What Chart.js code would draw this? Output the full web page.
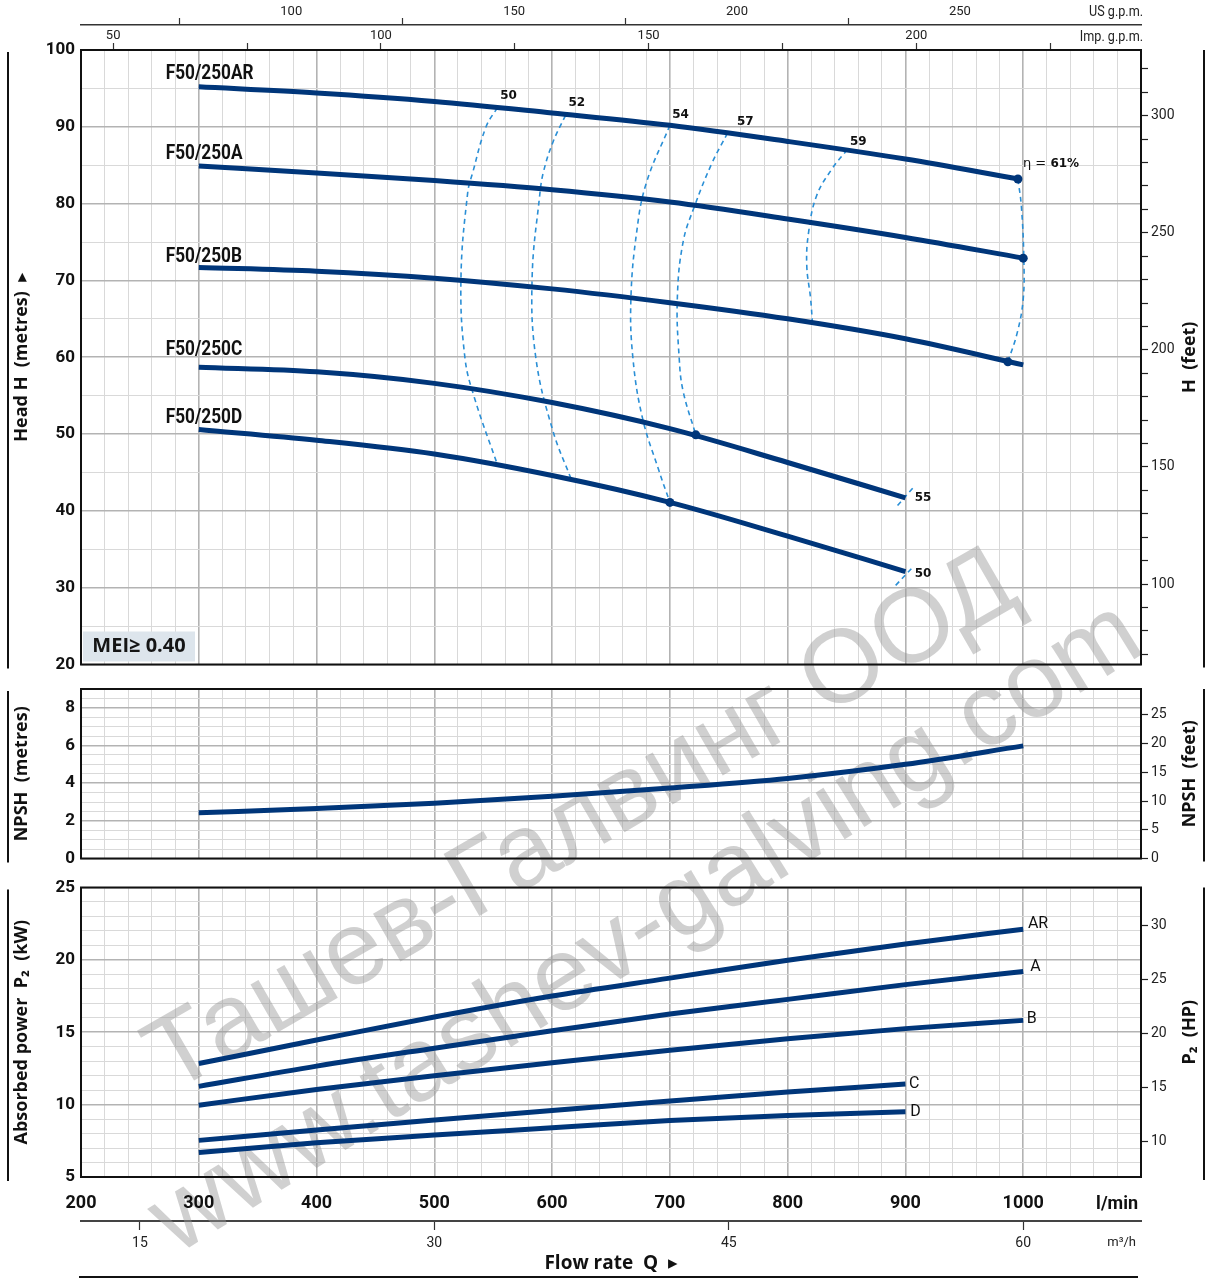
<!DOCTYPE html>
<html lang="en">
<head>
<meta charset="UTF-8">
<title>F50/250 performance curves</title>
<script src="https://cdn.jsdelivr.net/npm/chart.js"></script>
<style>
  html, body { margin: 0; padding: 0; background: #fff; }
  #page { position: relative; width: 1206px; height: 1279px; overflow: hidden; }
  .panel { position: absolute; left: 0; width: 1206px; }
</style>
</head>
<body>
<div id="page">
  <div class="panel" style="top:0;height:679px"><canvas id="headChart"></canvas></div>
  <div class="panel" style="top:679px;height:194px"><canvas id="npshChart"></canvas></div>
  <div class="panel" style="top:873px;height:406px"><canvas id="powerChart"></canvas></div>
</div>
<script>
// ---- values, flow Q in l/min ----
const qFull  = [300, 400, 500, 600, 700, 800, 900, 1000];
const qAR    = [300, 400, 500, 600, 700, 800, 900, 996];
const qShort = [300, 400, 500, 600, 700, 800, 900];

// head H (m)
const headAR = [95.2, 94.4, 93.3, 91.8, 90.2, 88.1, 85.8, 83.2];
const headA  = [84.9, 84.0, 83.0, 81.8, 80.2, 78.0, 75.6, 72.9];
const headB  = [71.7, 71.2, 70.3, 68.9, 67.1, 65.0, 62.4, 59.0];
const headC  = [58.7, 58.1, 56.6, 54.1, 50.7, 46.3, 41.7];
const headD  = [50.6, 49.2, 47.4, 44.6, 41.1, 36.7, 32.1];

// iso-efficiency lines [Q, H]
const eta50 = [[553.6, 92.5], [543.9, 90.0], [532.5, 84.0], [528.3, 81.4], [522.6, 70.2], [526, 59.9], [534.1, 54.7], [553.6, 46.0]];
const eta52 = [[611.4, 91.5], [600.7, 88.0], [592.6, 84.1], [589.4, 81.0], [583, 70.2], [586.2, 59.9], [600.7, 50.4], [616, 44.2]];
const eta54 = [[700, 90.2], [680, 82.7], [671.8, 76.3], [666.9, 67.6], [668.6, 59.9], [676.7, 52.1], [689.9, 45.6], [700, 41.1]];
const eta57 = [[749, 89.2], [735.8, 85.3], [721, 79.7], [711.2, 75.0], [706.3, 67.6], [707.9, 59.9], [711.2, 55.6], [722, 49.9]];
const eta59 = [[850.7, 87.05], [837.5, 84.5], [824.5, 81.0], [817.8, 76.3], [816.2, 72.0], [819.5, 67.6], [821, 64.5]];
const eta61 = [[995.5, 83.2], [998.4, 79.7], [1000.5, 72.9], [1000, 67.6], [995.1, 63.3], [987, 59.4]];
const eta55end = [[893.3, 40.7], [906.4, 43.0]];
const eta50end = [[891.7, 30.3], [905.8, 32.6]];

// best efficiency points
const bepQ = [995.5, 1000, 987, 722, 700];
const bepH = [83.2, 72.9, 59.4, 49.9, 41.1];

// NPSH (m)
const npsh = [2.43, 2.65, 2.94, 3.3, 3.74, 4.25, 5.0, 5.98];

// absorbed power P2 (kW)
const powerAR = [12.84, 14.46, 16.05, 17.5, 18.74, 19.98, 21.1, 22.12];
const powerA  = [11.26, 12.66, 13.9, 15.1, 16.26, 17.27, 18.29, 19.2];
const powerB  = [9.96, 11.05, 12.0, 12.9, 13.75, 14.55, 15.25, 15.82];
const powerC  = [7.53, 8.25, 8.93, 9.6, 10.25, 10.87, 11.42];
const powerD  = [6.69, 7.36, 7.9, 8.4, 8.9, 9.25, 9.5];

// tick labels
const flowLabels   = [200, 300, 400, 500, 600, 700, 800, 900, 1000];
const headLabels   = [20, 30, 40, 50, 60, 70, 80, 90, 100];
const feetTicks    = [70, 80, 90, 100, 110, 120, 130, 140, 150, 160, 170, 180, 190, 200, 210, 220, 230, 240, 250, 260, 270, 280, 290, 300, 310, 320];
const feetLabels   = [100, 150, 200, 250, 300];
const npshLabels   = [0, 2, 4, 6, 8];
const npshFtTicks  = [0, 5, 10, 15, 20, 25];
const powerLabels  = [5, 10, 15, 20, 25];
const hpTicks      = [10, 15, 20, 25, 30];
const usTicks      = [75, 100, 125, 150, 175, 200, 225, 250];
const usLabels     = [100, 150, 200, 250];
const impTicks     = [50, 75, 100, 125, 150, 175, 200, 225];
const impLabels    = [50, 100, 150, 200];
const m3hTicks     = [15, 30, 45, 60];

const L_PER_USG = 3.785, L_PER_IMPG = 4.546, M_PER_FT = 0.3048, KW_PER_HP = 0.7457;

const NAVY = '#00367a';
const DASH = '#2a8fd6';
const NARROW = "Roboto, 'DejaVu Sans Condensed', sans-serif";
const SANS = "'Open Sans', 'DejaVu Sans', sans-serif";

function seq(a, b, step) {
  const out = [];
  const n = Math.round((b - a) / step);
  for (let i = 0; i <= n; i++) out.push(+(a + i * step).toFixed(4));
  return out;
}
const pts = (xs, ys) => xs.map((x, i) => ({ x, y: ys[i] }));
const pairs = arr => arr.map(([x, y]) => ({ x, y }));
const setTicks = values => s => { s.ticks = values.map(v => ({ value: v })); };

function curve(xs, ys) {
  return { data: pts(xs, ys), borderColor: NAVY, borderWidth: 5, pointRadius: 0, cubicInterpolationMode: 'monotone', borderCapStyle: 'butt' };
}
function dashed(arr) {
  return { data: pairs(arr), borderColor: DASH, borderWidth: 1.6, borderDash: [5, 4], pointRadius: 0, tension: 0.4 };
}

function gridOpts(isMajor) {
  return {
    drawTicks: false,
    color: c => (c.tick && isMajor(c.tick.value)) ? '#b3b3b3' : '#d9d9d9',
    lineWidth: c => (c.tick && isMajor(c.tick.value)) ? 1.6 : 1
  };
}

function flowAxis(showLabels, height) {
  return {
    type: 'linear', position: 'bottom', weight: 0, min: 200, max: 1100,
    afterBuildTicks: setTicks(seq(200, 1100, 20)),
    grid: gridOpts(v => v % 100 === 0),
    border: { display: false },
    ticks: {
      display: showLabels, autoSkip: false, maxRotation: 0, padding: 16, z: 1, color: '#111',
      font: { family: NARROW, size: 18, weight: 'bold' },
      callback: v => flowLabels.includes(v) ? String(v) : ''
    },
    afterFit: s => { s.height = height; }
  };
}

function leftAxis(min, max, step, labels, major, title) {
  return {
    type: 'linear', position: 'left', min, max,
    afterBuildTicks: setTicks(seq(min, max, step)),
    grid: gridOpts(major),
    border: { display: false },
    ticks: {
      padding: 6, color: '#111', autoSkip: false, z: 1,
      font: c => ({ family: NARROW, weight: 'bold', size: (c.tick && labels.includes(c.tick.value)) ? 17 : 1, lineHeight: 1 }),
      callback: v => labels.includes(v) ? String(v) : ''
    },
    title: { display: true, text: title, color: '#111', font: { family: SANS, size: 18, weight: 'bold' }, padding: { top: 11, bottom: 0 } },
    afterFit: s => { s.width = 81; }
  };
}

function rightAxis(min, max, values, labels) {
  return {
    type: 'linear', position: 'right', min, max,
    afterBuildTicks: setTicks(values),
    grid: { drawOnChartArea: false, tickLength: 7, tickColor: '#222', tickWidth: 1.2 },
    border: { display: false },
    ticks: {
      padding: 3, color: '#222', autoSkip: false, z: 1,
      font: { family: NARROW, size: 14, lineHeight: 1 },
      callback: v => labels.includes(v) ? String(v) : ''
    },
    afterFit: s => { s.width = 65; }
  };
}

function topAxis(weight, per, values, labels, markLabelled, withBorder, pad) {
  return {
    type: 'linear', position: 'top', weight, min: 200 / per, max: 1100 / per,
    afterBuildTicks: setTicks(values),
    grid: {
      drawOnChartArea: false, tickLength: 7, tickWidth: 1.2,
      tickColor: c => (markLabelled || !(c.tick && labels.includes(c.tick.value))) ? '#333' : 'rgba(0,0,0,0)'
    },
    border: withBorder ? { display: true, color: '#333', width: 1.5 } : { display: false },
    ticks: {
      padding: pad, color: '#222', autoSkip: false, maxRotation: 0, z: 1,
      font: { family: NARROW, size: 13, lineHeight: 1 },
      callback: v => labels.includes(v) ? String(v) : ''
    },
    afterFit: s => { s.height = 25; }
  };
}

// background watermark, page coordinates
const watermark = [
  { text: 'Ташев-Галвинг ООД', x: 597, y: 848, angle: -30 },
  { text: 'www.tashev-galving.com', x: 662, y: 953, angle: -31.9 }
];

function txt(ctx, s, x, y, font, align, color, sx) {
  ctx.save();
  ctx.translate(x, y);
  if (sx) ctx.scale(sx, 1);
  ctx.font = font;
  ctx.textAlign = align || 'left';
  ctx.textBaseline = 'middle';
  ctx.fillStyle = color || '#111';
  ctx.fillText(s, 0, 0);
  ctx.restore();
}

const decor = {
  id: 'decor',
  beforeDatasetsDraw(chart, args, o) {
    const ctx = chart.ctx;
    ctx.save();
    ctx.fillStyle = 'rgba(150,150,150,0.45)';
    ctx.font = '104px "Liberation Sans", Arial, sans-serif';
    ctx.textAlign = 'center';
    ctx.textBaseline = 'alphabetic';
    watermark.forEach(w => {
      ctx.save();
      ctx.translate(w.x, w.y - o.top);
      ctx.rotate(w.angle * Math.PI / 180);
      ctx.fillText(w.text, 0, 0);
      ctx.restore();
    });
    ctx.restore();
  },
  afterDatasetsDraw(chart, args, o) {
    const { ctx, chartArea: a } = chart;
    ctx.save();
    ctx.strokeStyle = '#111';
    ctx.lineWidth = 2;
    ctx.strokeRect(a.left, a.top, a.right - a.left, a.bottom - a.top);
    ctx.beginPath();
    ctx.moveTo(8, a.top + 2); ctx.lineTo(8, a.bottom + 4);
    ctx.moveTo(1204, a.top); ctx.lineTo(1204, a.bottom + 3);
    ctx.stroke();
    ctx.translate(1190, (a.top + a.bottom) / 2);
    ctx.rotate(-Math.PI / 2);
    txt(ctx, o.rightTitle, 0, 0, 'bold 18px ' + SANS, 'center');
    ctx.restore();
  },
  afterDraw(chart, args, o) {
    if (o.extra) {
      chart.ctx.save();
      o.extra(chart, chart.ctx);
      chart.ctx.restore();
    }
  }
};

const common = {
  responsive: true, maintainAspectRatio: false, animation: false, events: [],
  plugins: { legend: { display: false }, tooltip: { enabled: false } }
};

// ---- head chart ----
const headNames = [
  { t: 'F50/250AR', h: 96.9 }, { t: 'F50/250A', h: 86.4 }, { t: 'F50/250B', h: 73.1 },
  { t: 'F50/250C', h: 61.0 }, { t: 'F50/250D', h: 52.1 }
];
const etaLabels = [
  { t: '50', q: 563, h: 94.05 }, { t: '52', q: 621, h: 93.1 }, { t: '54', q: 709, h: 91.5 },
  { t: '57', q: 764, h: 90.6 }, { t: '59', q: 860, h: 88.1 }, { t: '55', q: 915, h: 41.75 }, { t: '50', q: 915, h: 31.8 }
];

new Chart(document.getElementById('headChart'), {
  type: 'line',
  data: {
    datasets: [
      { data: pts(bepQ, bepH), showLine: false, pointRadius: 4.5, pointBackgroundColor: NAVY, pointBorderWidth: 0 },
      curve(qAR, headAR), curve(qFull, headA), curve(qFull, headB), curve(qShort, headC), curve(qShort, headD),
      dashed(eta50), dashed(eta52), dashed(eta54), dashed(eta57), dashed(eta59), dashed(eta61),
      dashed(eta55end), dashed(eta50end)
    ]
  },
  options: {
    ...common,
    layout: { padding: 0 },
    scales: {
      x: flowAxis(false, 11),
      y: leftAxis(20, 100, 5, headLabels, v => v % 10 === 0, 'Head H  (metres)  \u25B8'),
      yFt: rightAxis(20 / M_PER_FT, 100 / M_PER_FT, feetTicks, feetLabels),
      imp: topAxis(1, L_PER_IMPG, impTicks, impLabels, true, false, 1),
      us: topAxis(2, L_PER_USG, usTicks, usLabels, false, true, 0)
    },
    plugins: {
      ...common.plugins,
      decor: {
        top: 0, rightTitle: 'H  (feet)',
        extra(chart, ctx) {
          const x = chart.scales.x, y = chart.scales.y, a = chart.chartArea;
          headNames.forEach(n => txt(ctx, n.t, x.getPixelForValue(272), y.getPixelForValue(n.h), 'bold 20px ' + NARROW, 'left', '#111', 0.86));
          etaLabels.forEach(n => txt(ctx, n.t, x.getPixelForValue(n.q), y.getPixelForValue(n.h), 'bold 12px "DejaVu Sans", sans-serif', 'center'));
          // eta = 61%
          const ex = x.getPixelForValue(999.8), ey = y.getPixelForValue(85.2);
          ctx.font = '13px "DejaVu Sans", sans-serif';
          const w = ctx.measureText('\u03B7 = ').width;
          txt(ctx, '\u03B7 = ', ex, ey, '13px "DejaVu Sans", sans-serif', 'left');
          txt(ctx, '61%', ex + w, ey, 'bold 12px "DejaVu Sans", sans-serif', 'left');
          // MEI box
          ctx.fillStyle = '#dde5ec';
          ctx.fillRect(a.left + 2, a.bottom - 33, 112, 30);
          txt(ctx, 'MEI\u2265 0.40', a.left + 58, a.bottom - 18, 'bold 20px ' + SANS, 'center', '#151515');
          // unit names of the top axes
          txt(ctx, 'US g.p.m.', a.right + 2, 12, '14px ' + NARROW, 'right', '#222', 0.9);
          txt(ctx, 'Imp. g.p.m.', a.right + 2, 37, '14px ' + NARROW, 'right', '#222', 0.9);
        }
      }
    }
  },
  plugins: [decor]
});

// ---- NPSH chart ----
new Chart(document.getElementById('npshChart'), {
  type: 'line',
  data: { datasets: [curve(qFull, npsh)] },
  options: {
    ...common,
    layout: { padding: { top: 7, bottom: 0, left: 0, right: 0 } },
    scales: {
      x: flowAxis(false, 9),
      y: leftAxis(0, 9, 0.5, npshLabels, v => v % 2 === 0, 'NPSH  (metres)'),
      yFt: rightAxis(0, 9 / M_PER_FT, npshFtTicks, npshFtTicks)
    },
    plugins: { ...common.plugins, decor: { top: 679, rightTitle: 'NPSH  (feet)' } }
  },
  plugins: [decor]
});

// ---- power chart ----
const powerNames = [
  { t: 'AR', q: 1004, p: 22.5 }, { t: 'A', q: 1006, p: 19.5 }, { t: 'B', q: 1003, p: 15.9 },
  { t: 'C', q: 903, p: 11.44 }, { t: 'D', q: 904, p: 9.47 }
];

new Chart(document.getElementById('powerChart'), {
  type: 'line',
  data: {
    datasets: [
      curve(qFull, powerAR), curve(qFull, powerA), curve(qFull, powerB),
      curve(qShort, powerC), curve(qShort, powerD)
    ]
  },
  options: {
    ...common,
    layout: { padding: { top: 9, bottom: 0, left: 0, right: 0 } },
    scales: {
      x: flowAxis(true, 44),
      m3h: {
        type: 'linear', position: 'bottom', weight: 1, min: 200 * 0.06, max: 1100 * 0.06,
        afterBuildTicks: setTicks(m3hTicks),
        grid: { drawOnChartArea: false, tickLength: 9, tickWidth: 1.2, tickColor: '#333' },
        border: { display: true, color: '#444', width: 2 },
        ticks: { padding: 5, color: '#222', z: 1, autoSkip: false, maxRotation: 0, font: { family: NARROW, size: 14 } },
        title: { display: true, text: 'Flow rate  Q  \u25B8', color: '#111', font: { family: SANS, size: 19, weight: 'bold' }, padding: { top: 0, bottom: 4 } },
        afterFit: s => { s.height = 58; }
      },
      y: leftAxis(5, 25, 1, powerLabels, v => v % 5 === 0, 'Absorbed power  P\u2082  (kW)'),
      yHp: rightAxis(5 / KW_PER_HP, 25 / KW_PER_HP, hpTicks, hpTicks)
    },
    plugins: {
      ...common.plugins,
      decor: {
        top: 873, rightTitle: 'P\u2082  (HP)',
        extra(chart, ctx) {
          const x = chart.scales.x, y = chart.scales.y, a = chart.chartArea, m = chart.scales.m3h;
          powerNames.forEach(n => txt(ctx, n.t, x.getPixelForValue(n.q), y.getPixelForValue(n.p), '16px ' + NARROW, 'left', '#111'));
          txt(ctx, 'l/min', a.right - 3, x.top + 27, 'bold 18px ' + NARROW, 'right', '#111');
          txt(ctx, 'm\u00B3/h', a.right - 5, m.top + 22, '13px ' + NARROW, 'right', '#222');
          ctx.strokeStyle = '#111';
          ctx.lineWidth = 2;
          ctx.beginPath();
          ctx.moveTo(a.left - 2, chart.height - 2);
          ctx.lineTo(a.right - 3, chart.height - 2);
          ctx.stroke();
        }
      }
    }
  },
  plugins: [decor]
});
</script>
</body>
</html>
